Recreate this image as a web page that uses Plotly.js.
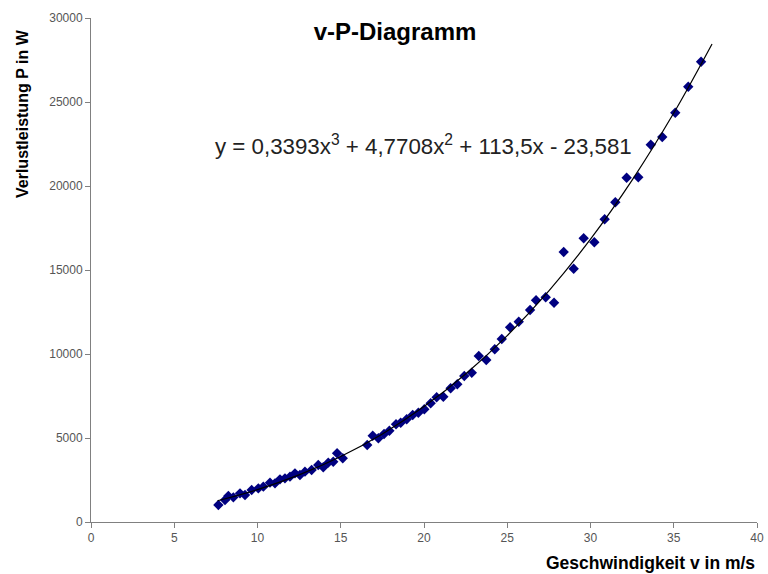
<!DOCTYPE html>
<html>
<head>
<meta charset="utf-8">
<script src="https://cdn.plot.ly/plotly-3.0.1.min.js"></script>
<style>html,body{margin:0;padding:0;background:#fff}#chart{width:768px;height:574px}</style>
</head>
<body>
<div id="chart"></div>
<script>
// Measured points: speed v (m/s) and loss power P (W)
var speedV = [7.65, 8.05, 8.25, 8.55, 8.95, 9.25, 9.65, 10.05, 10.35, 10.75, 11.05, 11.35, 11.65, 11.95,
  12.25, 12.55, 12.85, 13.25, 13.65, 13.95, 14.25, 14.55, 14.78, 15.12, 16.59, 16.92, 17.26, 17.6,
  17.92, 18.32, 18.6, 18.96, 19.32, 19.66, 20.02, 20.4, 20.76, 21.16, 21.6, 22.0, 22.42, 22.87,
  23.29, 23.74, 24.25, 24.67, 25.17, 25.69, 26.37, 26.73, 27.31, 27.81, 28.39, 28.99, 29.59, 30.23,
  30.85, 31.49, 32.17, 32.87, 33.62, 34.31, 35.09, 35.87, 36.64];
var powerP = [1012, 1309, 1548, 1468, 1706, 1607, 1905, 2004, 2103, 2341, 2302, 2539, 2599, 2698,
  2897, 2797, 2996, 3095, 3393, 3256, 3532, 3589, 4090, 3791, 4583, 5137, 4982, 5238,
  5434, 5815, 5910, 6113, 6369, 6506, 6708, 7065, 7422, 7458, 7958, 8196, 8690, 8886,
  9880, 9642, 10279, 10892, 11588, 11922, 12618, 13196, 13374, 13053, 16070, 15076, 16886, 16648,
  18017, 19029, 20493, 20517, 22457, 22915, 24362, 25910, 27397];

// Trendline
var trendV = [7.6, 10, 12.5, 15, 17.5, 20, 22.5, 25, 27.5, 30, 32.5, 35, 37.3];
var trendP = [1264, 1928, 2803, 3897, 5242, 6869, 8810, 11097, 13762, 16836, 20352, 24341, 28455];

var titleText = 'v-P-Diagramm';
var xTitle = 'Geschwindigkeit v in m/s';
var yTitle = 'Verlustleistung P in W';
var equation = 'y = 0,3393x<sup>3</sup> + 4,7708x<sup>2</sup> + 113,5x - 23,581';
var xTicks = [0, 5, 10, 15, 20, 25, 30, 35, 40];
var yTicks = [0, 5000, 10000, 15000, 20000, 25000, 30000];

var FONT = 'Arial, "Liberation Sans", sans-serif';

var traces = [
  {x: speedV, y: powerP, type: 'scatter', mode: 'markers',
   marker: {symbol: 'diamond', size: 8, color: '#000080'}, hoverinfo: 'skip'},
  {x: trendV, y: trendP, type: 'scatter', mode: 'lines',
   line: {color: '#000000', width: 1.2, shape: 'spline'}, hoverinfo: 'skip'}
];

var layout = {
  width: 768, height: 574,
  margin: {l: 91, r: 11, t: 18, b: 52},
  paper_bgcolor: '#ffffff', plot_bgcolor: '#ffffff',
  showlegend: false,
  font: {family: FONT, color: '#444444', size: 12},
  title: {text: '<b>' + titleText + '</b>', font: {family: FONT, size: 24, color: '#000000'},
          xref: 'container', yref: 'container', x: 395/768, y: 1 - 32/574,
          xanchor: 'center', yanchor: 'middle'},
  xaxis: {range: [0, 40], tickvals: xTicks, ticktext: xTicks.map(String),
          showgrid: false, zeroline: false, showline: true, linecolor: '#808080', linewidth: 1,
          ticks: 'outside', ticklen: 5, tickcolor: '#808080', tickwidth: 1,
          tickfont: {family: FONT, size: 12, color: '#555555'}},
  yaxis: {range: [0, 30000], tickvals: yTicks, ticktext: yTicks.map(String),
          showgrid: false, zeroline: false, showline: true, linecolor: '#808080', linewidth: 1,
          ticks: 'outside', ticklen: 5, tickcolor: '#808080', tickwidth: 1,
          tickfont: {family: FONT, size: 12, color: '#555555'}},
  annotations: [
    {text: equation, xref: 'paper', yref: 'paper', x: (213-91)/666, y: (522-145)/504,
     xanchor: 'left', yanchor: 'middle', showarrow: false,
     font: {family: FONT, size: 22.3, color: '#222222'}},
    {text: '<b>' + xTitle + '</b>', xref: 'paper', yref: 'paper', x: 1, y: (522-563)/504,
     xanchor: 'right', yanchor: 'middle', showarrow: false,
     font: {family: FONT, size: 17.5, color: '#000000'}},
    {text: '<b>' + yTitle + '</b>', xref: 'paper', yref: 'paper', x: (22-91)/666, y: (522-114)/504,
     xanchor: 'center', yanchor: 'middle', textangle: -90, showarrow: false,
     font: {family: FONT, size: 16, color: '#000000'}}
  ]
};

Plotly.newPlot('chart', traces, layout, {displayModeBar: false, staticPlot: true});
</script>
</body>
</html>
